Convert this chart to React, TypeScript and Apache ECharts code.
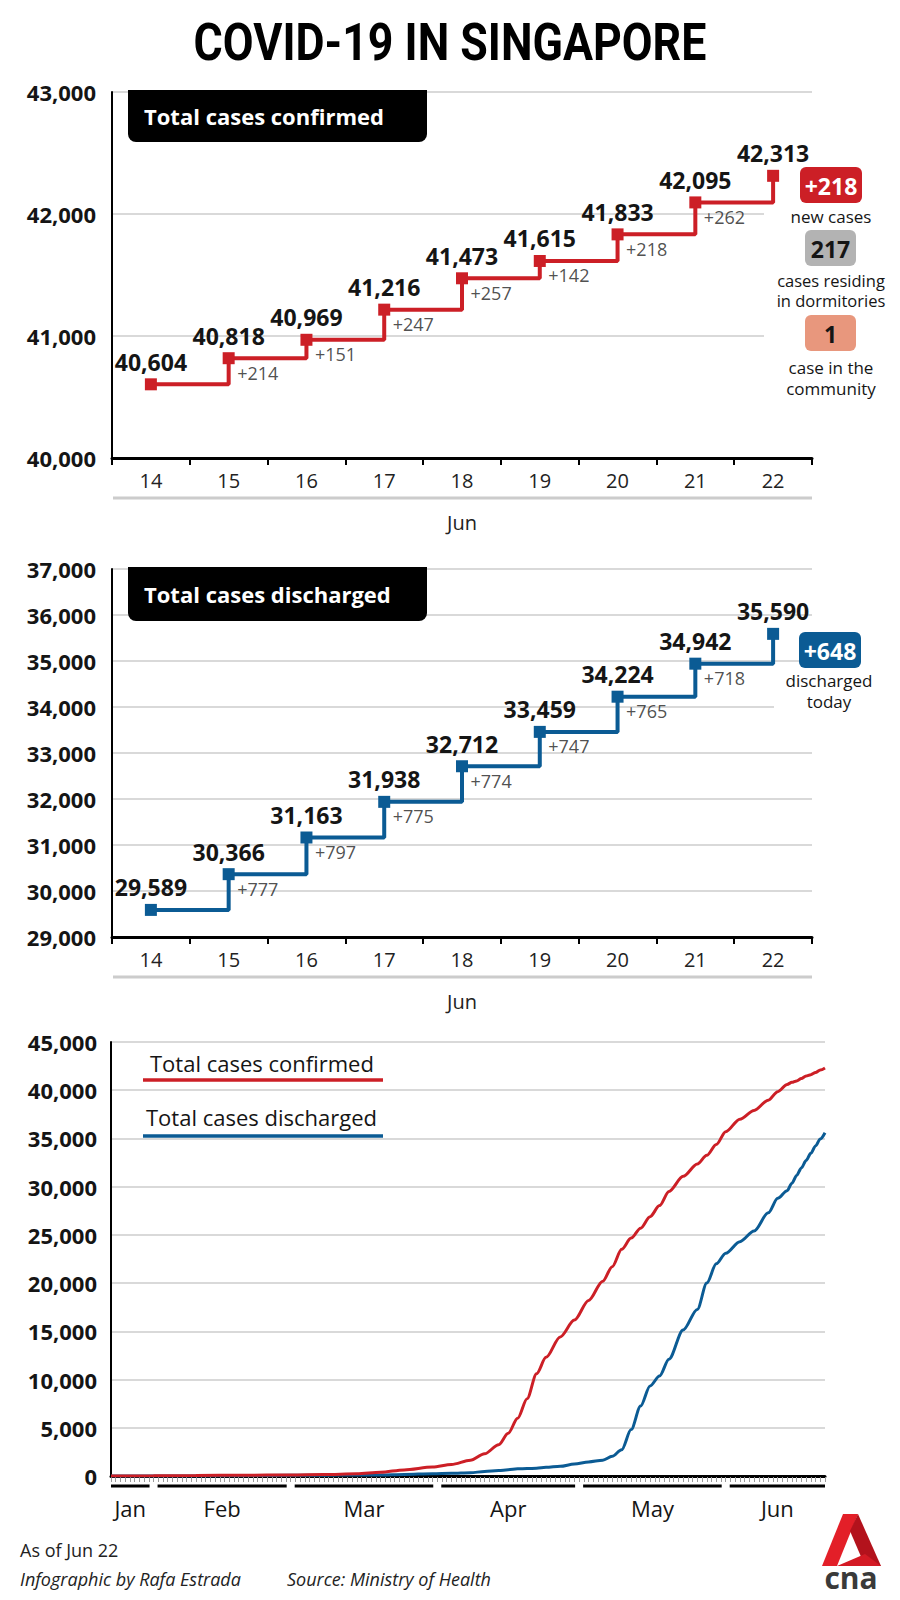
import React, { useEffect, useRef } from 'react';
import * as echarts from 'echarts';

// Top two panels: days in June
const dayLabels = ['14', '15', '16', '17', '18', '19', '20', '21', '22'];
const confirmedTotals = [40604, 40818, 40969, 41216, 41473, 41615, 41833, 42095, 42313];
const confirmedDeltas = [null, 214, 151, 247, 257, 142, 218, 262, null];
const dischargedTotals = [29589, 30366, 31163, 31938, 32712, 33459, 34224, 34942, 35590];
const dischargedDeltas = [null, 777, 797, 775, 774, 747, 765, 718, null];

// Bottom panel: cumulative totals since the first case
const trendDates = [
  '2020-01-23', '2020-02-01', '2020-02-10', '2020-02-20', '2020-03-01', '2020-03-08',
  '2020-03-15', '2020-03-20', '2020-03-25', '2020-03-31', '2020-04-04', '2020-04-08',
  '2020-04-11', '2020-04-14', '2020-04-16', '2020-04-18', '2020-04-20', '2020-04-22',
  '2020-04-24', '2020-04-27', '2020-04-30', '2020-05-03', '2020-05-06', '2020-05-08',
  '2020-05-10', '2020-05-12', '2020-05-14', '2020-05-16', '2020-05-18', '2020-05-20',
  '2020-05-23', '2020-05-26', '2020-05-28', '2020-05-30', '2020-06-01', '2020-06-04',
  '2020-06-07', '2020-06-10', '2020-06-12', '2020-06-14', '2020-06-15', '2020-06-16',
  '2020-06-17', '2020-06-18', '2020-06-19', '2020-06-20', '2020-06-21', '2020-06-22',
];
const confirmedTrend = [
  1, 16, 45, 85, 106, 150,
  226, 385, 631, 926, 1189, 1623,
  2299, 3252, 4427, 5992, 8014, 10600,
  12300, 14423, 16169, 18205, 20198, 21707,
  23500, 24671, 25700, 26891, 28038, 29500,
  31068, 32343, 33249, 34366, 35700, 37000,
  37910, 38965, 39850, 40604, 40818, 40969,
  41216, 41473, 41615, 41833, 42095, 42313,
];
const dischargedTrend = [
  0, 0, 2, 34, 74, 78,
  105, 114, 160, 240, 282, 344,
  460, 560, 652, 740, 768, 801,
  896, 1002, 1244, 1457, 1634, 2040,
  2721, 4809, 7248, 9340, 10365, 12117,
  15138, 17276, 20000, 22000, 23100, 24300,
  25400, 27286, 28800, 29589, 30366, 31163,
  31938, 32712, 33459, 34224, 34942, 35590,
];
const monthNames = ['Jan', 'Feb', 'Mar', 'Apr', 'May', 'Jun'];

const RED = '#cc1f26';
const BLUE = '#0b5b94';
const INK = '#151515';
const FONT = '"Open Sans", "Noto Sans", sans-serif';
const f = (size: number, weight = 'normal', style = 'normal') =>
  `${style} ${weight} ${size}px ${FONT}`;

const toTime = (s: string) => {
  const [y, m, d] = s.split('-').map(Number);
  return new Date(y, m - 1, d).getTime();
};
const fmt = (v: number) => Number(v).toLocaleString('en-US');

const text = (x: number, y: number, str: string, font: string, fill = INK, align = 'center', z = 20) => ({
  type: 'text',
  x,
  y,
  z,
  style: { text: str, font, fill, textAlign: align, textVerticalAlign: 'middle' },
});

const stepAxes = (gridIndex: number, min: number, max: number) => ({
  x: {
    type: 'category',
    gridIndex,
    data: dayLabels,
    boundaryGap: true,
    axisLine: { lineStyle: { color: '#000', width: 3 } },
    axisTick: { show: true, length: 7, lineStyle: { color: '#000', width: 2 } },
    axisLabel: { fontSize: 20, color: '#222', fontFamily: FONT, margin: 12 },
    splitLine: { show: false },
    name: 'Jun',
    nameLocation: 'middle',
    nameGap: 54,
    nameTextStyle: { fontSize: 20, color: '#222', fontFamily: FONT },
  },
  y: {
    type: 'value',
    gridIndex,
    min,
    max,
    interval: 1000,
    axisLine: { show: true, lineStyle: { color: '#000', width: 2 } },
    axisTick: { show: false },
    axisLabel: {
      fontSize: 22,
      fontWeight: 'bold',
      color: INK,
      fontFamily: FONT,
      margin: 16,
      formatter: (v: number) => fmt(v),
    },
    splitLine: { lineStyle: { color: '#cccccc', width: 1.5 } },
  },
});

const stepSeries = (axisIndex: number, totals: number[], deltas: (number | null)[], color: string) => [
  {
    type: 'line',
    xAxisIndex: axisIndex,
    yAxisIndex: axisIndex,
    data: totals,
    step: 'end',
    symbol: 'rect',
    symbolSize: 12,
    showAllSymbol: true,
    lineStyle: { color, width: 4 },
    itemStyle: { color },
    z: 5,
    label: {
      show: true,
      position: 'top',
      distance: 5,
      fontSize: 23,
      fontWeight: 'bold',
      color: INK,
      fontFamily: FONT,
      formatter: (p: any) => fmt(p.value),
    },
  },
  {
    type: 'scatter',
    xAxisIndex: axisIndex,
    yAxisIndex: axisIndex,
    symbolSize: 1,
    itemStyle: { color: 'rgba(0,0,0,0)' },
    silent: true,
    z: 6,
    data: dayLabels
      .map((d, i) => (deltas[i] == null ? null : [d, totals[i], deltas[i]]))
      .filter((v) => v !== null),
    label: {
      show: true,
      position: [9, 6],
      fontSize: 18,
      color: '#222',
      fontFamily: FONT,
      formatter: (p: any) => `+${p.value[2]}`,
    },
  },
];

const App: React.FC = () => {
  const chartRef = useRef<HTMLDivElement>(null);

  useEffect(() => {
    if (!chartRef.current) return;
    document.body.style.margin = '0';
    const chart = echarts.init(chartRef.current, undefined, { renderer: 'svg' });

    const top = stepAxes(0, 40000, 43000);
    const mid = stepAxes(1, 29000, 37000);

    chart.setOption({
      animation: false,
      backgroundColor: '#fff',
      textStyle: { fontFamily: FONT },
      grid: [
        { left: 112, top: 92, width: 700, height: 366, outerBoundsMode: 'none' },
        { left: 112, top: 569, width: 700, height: 368, outerBoundsMode: 'none' },
        { left: 111, top: 1042, width: 714, height: 434, outerBoundsMode: 'none' },
      ],
      xAxis: [
        top.x,
        mid.x,
        {
          type: 'time',
          gridIndex: 2,
          min: toTime('2020-01-23'),
          max: toTime('2020-06-22'),
          axisLine: { lineStyle: { color: '#000', width: 3 } },
          axisTick: { show: false },
          axisLabel: { show: false },
          splitLine: { show: false },
        },
        {
          // one tick per day under the time axis
          type: 'value',
          gridIndex: 2,
          position: 'bottom',
          offset: 1,
          min: 0,
          max: 151,
          interval: 1,
          axisLine: { show: false },
          axisTick: { show: true, length: 5, lineStyle: { color: '#9a9a9a', width: 1 } },
          axisLabel: { show: false },
          splitLine: { show: false },
        },
      ],
      yAxis: [
        top.y,
        mid.y,
        {
          type: 'value',
          gridIndex: 2,
          min: 0,
          max: 45000,
          interval: 5000,
          axisLine: { show: true, lineStyle: { color: '#000', width: 2 } },
          axisTick: { show: false },
          axisLabel: {
            fontSize: 22,
            fontWeight: 'bold',
            color: INK,
            fontFamily: FONT,
            margin: 14,
            formatter: (v: number) => fmt(v),
          },
          splitLine: { lineStyle: { color: '#cccccc', width: 1.5 } },
        },
      ],
      series: [
        ...stepSeries(0, confirmedTotals, confirmedDeltas, RED),
        ...stepSeries(1, dischargedTotals, dischargedDeltas, BLUE),
        {
          type: 'line',
          xAxisIndex: 2,
          yAxisIndex: 2,
          showSymbol: false,
          smooth: 0.3,
          smoothMonotone: 'x',
          lineStyle: { color: RED, width: 3 },
          data: trendDates.map((d, i) => [toTime(d), confirmedTrend[i]]),
          z: 5,
        },
        {
          type: 'line',
          xAxisIndex: 2,
          yAxisIndex: 2,
          showSymbol: false,
          smooth: 0.3,
          smoothMonotone: 'x',
          lineStyle: { color: BLUE, width: 3 },
          data: trendDates.map((d, i) => [toTime(d), dischargedTrend[i]]),
          z: 4,
        },
      ],
    });

    // month bars and labels under the bottom time axis
    const left = 111;
    const right = 825;
    const monthEls: any[] = [];
    monthNames.forEach((name, i) => {
      const a = chart.convertToPixel({ xAxisIndex: 2 }, new Date(2020, i, 1).getTime()) as number;
      const b = chart.convertToPixel({ xAxisIndex: 2 }, new Date(2020, i + 1, 1).getTime()) as number;
      const x1 = a < left ? left : a + 4;
      const x2 = b > right ? right : b - 4;
      monthEls.push({
        type: 'line',
        z: 20,
        shape: { x1, y1: 1486, x2, y2: 1486 },
        style: { stroke: '#000', lineWidth: 3 },
      });
      monthEls.push(text((x1 + x2) / 2, 1508, name, f(22), INK));
    });

    const card = (x: number, y: number, w: number, h: number, fill: string, label: string, color: string) => [
      { type: 'rect', z: 20, shape: { x, y, width: w, height: h, r: 6 }, style: { fill } },
      text(x + w / 2, y + h / 2 + 1, label, f(23, 'bold'), color, 'center', 21),
    ];

    const elements: any[] = [
      // title
      {
        type: 'text',
        x: 450,
        y: 42,
        scaleX: 0.86,
        z: 20,
        style: {
          text: 'COVID-19 IN SINGAPORE',
          font: `bold 52px Roboto, "Open Sans", sans-serif`,
          fill: '#000',
          textAlign: 'center',
          textVerticalAlign: 'middle',
        },
      },
      // panel headers
      { type: 'rect', z: 20, shape: { x: 128, y: 90, width: 299, height: 52, r: [0, 0, 8, 8] }, style: { fill: '#000' } },
      text(144, 116, 'Total cases confirmed', f(22, 'bold'), '#fff', 'left', 21),
      { type: 'rect', z: 20, shape: { x: 128, y: 567, width: 299, height: 54, r: [0, 0, 8, 8] }, style: { fill: '#000' } },
      text(144, 594, 'Total cases discharged', f(22, 'bold'), '#fff', 'left', 21),
      // grid breaks behind the side notes
      { type: 'rect', z: 1, shape: { x: 764, y: 207, width: 50, height: 140 }, style: { fill: '#fff' } },
      { type: 'rect', z: 1, shape: { x: 774, y: 700, width: 40, height: 14 }, style: { fill: '#fff' } },
      // side notes, confirmed
      ...card(800, 167, 62, 36, RED, '+218', '#fff'),
      text(831, 216, 'new cases', f(17)),
      ...card(805, 230, 51, 36, '#b3b3b3', '217', INK),
      text(831, 280, 'cases residing', f(16.5)),
      text(831, 300, 'in dormitories', f(16.5)),
      ...card(805, 315, 51, 36, '#e8977d', '1', INK),
      text(831, 367, 'case in the', f(17)),
      text(831, 388, 'community', f(17)),
      // side notes, discharged
      ...card(799, 632, 62, 36, BLUE, '+648', '#fff'),
      text(829, 680, 'discharged', f(17)),
      text(829, 701, 'today', f(17)),
      // separators under the day labels
      { type: 'line', z: 20, shape: { x1: 113, y1: 498, x2: 812, y2: 498 }, style: { stroke: '#cccccc', lineWidth: 3 } },
      { type: 'line', z: 20, shape: { x1: 113, y1: 977, x2: 812, y2: 977 }, style: { stroke: '#cccccc', lineWidth: 3 } },
      // legend of the bottom panel
      text(150, 1063, 'Total cases confirmed', f(22), INK, 'left'),
      { type: 'line', z: 20, shape: { x1: 143, y1: 1080, x2: 383, y2: 1080 }, style: { stroke: RED, lineWidth: 3.5 } },
      text(146, 1117, 'Total cases discharged', f(22), INK, 'left'),
      { type: 'line', z: 20, shape: { x1: 143, y1: 1136, x2: 383, y2: 1136 }, style: { stroke: BLUE, lineWidth: 3.5 } },
      ...monthEls,
      // footer
      text(20, 1550, 'As of Jun 22', f(18), '#222', 'left'),
      text(20, 1579, 'Infographic by Rafa Estrada', f(18, 'normal', 'italic'), '#222', 'left'),
      text(287, 1579, 'Source: Ministry of Health', f(18, 'normal', 'italic'), '#222', 'left'),
      // cna logo
      { type: 'polygon', z: 20, shape: { points: [[843, 1514], [858, 1514], [837, 1566], [822, 1566]] }, style: { fill: '#e31f28' } },
      { type: 'polygon', z: 20, shape: { points: [[858, 1514], [881, 1566], [865, 1566], [850, 1531]] }, style: { fill: '#b3121c' } },
      { type: 'polygon', z: 21, shape: { points: [[837, 1566], [865, 1554], [881, 1566]] }, style: { fill: '#d41a24' } },
      text(851, 1577, 'cna', `bold 30px ${FONT}`, '#3a3a3a'),
    ];

    chart.setOption({ graphic: { elements } });

    return () => {
      chart.dispose();
    };
  }, []);

  return <div ref={chartRef} style={{ width: 900, height: 1600 }} />;
};

export default App;
